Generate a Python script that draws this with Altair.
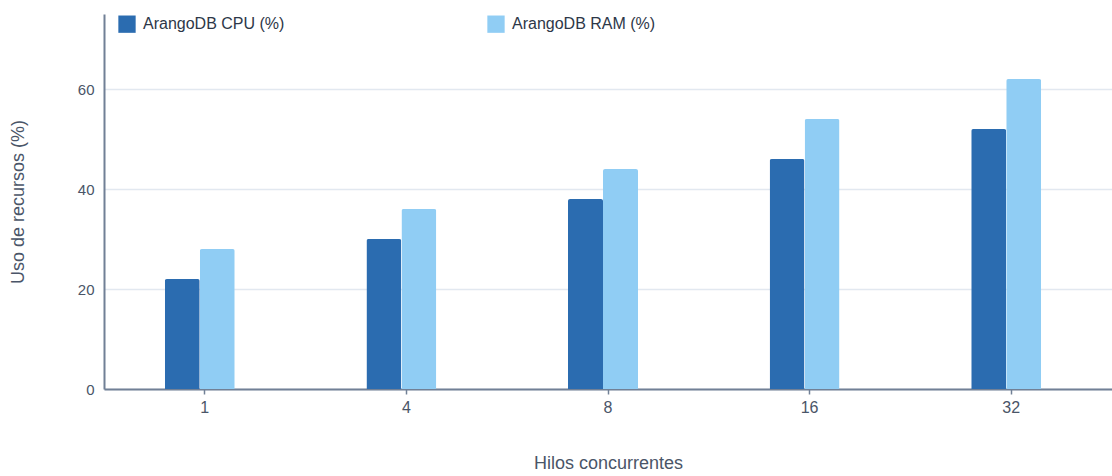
import altair as alt
import pandas as pd

threads = ["1", "4", "8", "16", "32"]
cpu = [22, 30, 38, 46, 52]
ram = [28, 36, 44, 54, 62]
series = ["ArangoDB CPU (%)", "ArangoDB RAM (%)"]
colors = ["#2b6cb0", "#90cdf4"]

rows = []
for i, t in enumerate(threads):
    rows.append({"hilos": t, "serie": series[0], "valor": cpu[i]})
    rows.append({"hilos": t, "serie": series[1], "valor": ram[i]})
df = pd.DataFrame(rows)

font = "Liberation Sans"
label_color = "#4a5568"
axis_color = "#718096"

chart = (
    alt.Chart(df)
    .mark_bar(cornerRadiusTopLeft=2, cornerRadiusTopRight=2)
    .encode(
        x=alt.X(
            "hilos:N",
            sort=threads,
            scale=alt.Scale(paddingInner=0, paddingOuter=0),
            axis=alt.Axis(
                title="Hilos concurrentes",
                labelAngle=0,
                labelFontSize=16,
                labelPadding=5,
                tickSize=5,
                tickColor=axis_color,
                tickWidth=1.5,
                titlePadding=39,
                grid=False,
                domainColor=axis_color,
                domainWidth=2,
            ),
        ),
        xOffset=alt.XOffset(
            "serie:N",
            sort=series,
            scale=alt.Scale(range=[60.8, 130.8], paddingInner=0, paddingOuter=0),
        ),
        y=alt.Y(
            "valor:Q",
            scale=alt.Scale(domain=[0, 75], nice=False),
            axis=alt.Axis(
                title="Uso de recursos (%)",
                values=[0, 20, 40, 60],
                labelFontSize=15,
                labelPadding=10,
                ticks=False,
                titlePadding=50,
                gridColor="#e2e8f0",
                gridWidth=1.5,
                domainColor=axis_color,
                domainWidth=2,
            ),
        ),
        color=alt.Color(
            "serie:N",
            sort=series,
            scale=alt.Scale(domain=series, range=colors),
            legend=alt.Legend(
                title=None,
                orient="none",
                legendX=14,
                legendY=1,
                direction="horizontal",
                columns=2,
                columnPadding=202,
                symbolType="square",
                symbolSize=300,
                symbolStrokeWidth=0,
                labelFontSize=16,
                labelOffset=7,
                labelColor="#2d3748",
                labelFont=font,
            ),
        ),
    )
    .properties(
        width=1008,
        height=375,
        autosize=alt.AutoSizeParams(type="none"),
        padding={"left": 104, "top": 14, "right": 0, "bottom": 87},
    )
    .configure_view(stroke=None)
    .configure_axis(
        labelFont=font,
        titleFont=font,
        labelColor=label_color,
        titleColor=label_color,
        titleFontSize=18,
        titleFontWeight="normal",
    )
)

chart.save("out.html", embed_options={"renderer": "svg", "actions": False})
